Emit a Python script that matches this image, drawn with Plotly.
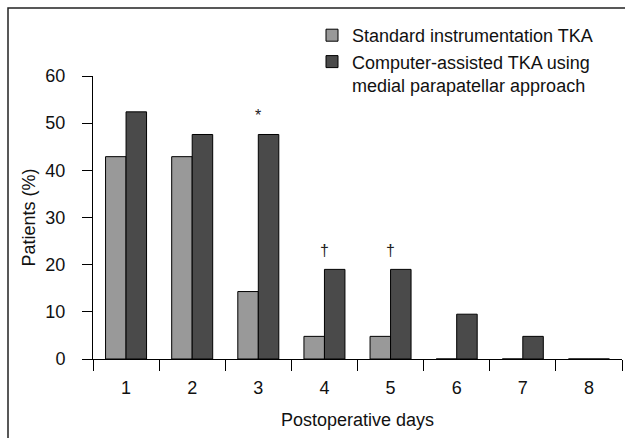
import plotly.graph_objects as go

days = ["1", "2", "3", "4", "5", "6", "7", "8"]
standard = [42.9, 42.9, 14.3, 4.8, 4.8, 0, 0, 0]
computer = [52.4, 47.6, 47.6, 19.0, 19.0, 9.5, 4.8, 0]
marks = ["", "", "*", "†", "†", "", "", ""]
yticks = [0, 10, 20, 30, 40, 50, 60]

FONT = "Liberation Sans, Arial, sans-serif"

fig = go.Figure()
fig.add_trace(go.Bar(
    x=days, y=standard, name="Standard instrumentation TKA",
    marker=dict(color="#999999", line=dict(color="#000000", width=1)),
))
fig.add_trace(go.Bar(
    x=days, y=computer, name="Computer-assisted TKA using<br>medial parapatellar approach",
    marker=dict(color="#4a4a4a", line=dict(color="#000000", width=1)),
))

for i, (v, m) in enumerate(zip(computer, marks)):
    if m:
        fig.add_annotation(x=i, y=v, xref="x", yref="y", text=m, showarrow=False,
                           yanchor="bottom", yshift=8,
                           font=dict(size=16, color="#222222", family=FONT))

W, H = 625, 438
L, R, T, B = 93, 3, 76, 79
pw, ph = W - L - R, H - T - B
fx = lambda px: (px - L) / pw
fy = lambda py: (H - B - py) / ph

fig.add_shape(type="rect", xref="paper", yref="paper",
              x0=fx(8), x1=fx(W + 20), y0=fy(H + 20), y1=fy(8),
              line=dict(color="#222222", width=1.5), layer="below")

fig.update_layout(
    width=W, height=H,
    margin=dict(l=L, r=R, t=T, b=B),
    paper_bgcolor="white", plot_bgcolor="white",
    barmode="group", bargap=0.38, bargroupgap=0,
    font=dict(family=FONT, size=18, color="#111111"),
    showlegend=True,
    legend=dict(x=fx(312), y=fy(17), xanchor="left", yanchor="top",
                bgcolor="rgba(0,0,0,0)", font=dict(size=18), valign="top",
                tracegroupgap=0, traceorder="normal"),
    xaxis=dict(type="category", tickson="boundaries", ticks="outside", ticklen=11,
               tickwidth=1, tickcolor="#000", showline=True, linecolor="#000",
               linewidth=1, showgrid=False, zeroline=False, ticklabelstandoff=12,
               title=dict(text="Postoperative days", standoff=16,
                          font=dict(size=18))),
    yaxis=dict(range=[0, 60], tickvals=yticks, ticks="outside", ticklen=10,
               tickwidth=1, tickcolor="#000", showline=True, linecolor="#000",
               linewidth=1, showgrid=False, zeroline=False, ticklabelstandoff=13,
               title=dict(text="Patients (%)", standoff=5, font=dict(size=18))),
)

fig.write_html("out.html")
